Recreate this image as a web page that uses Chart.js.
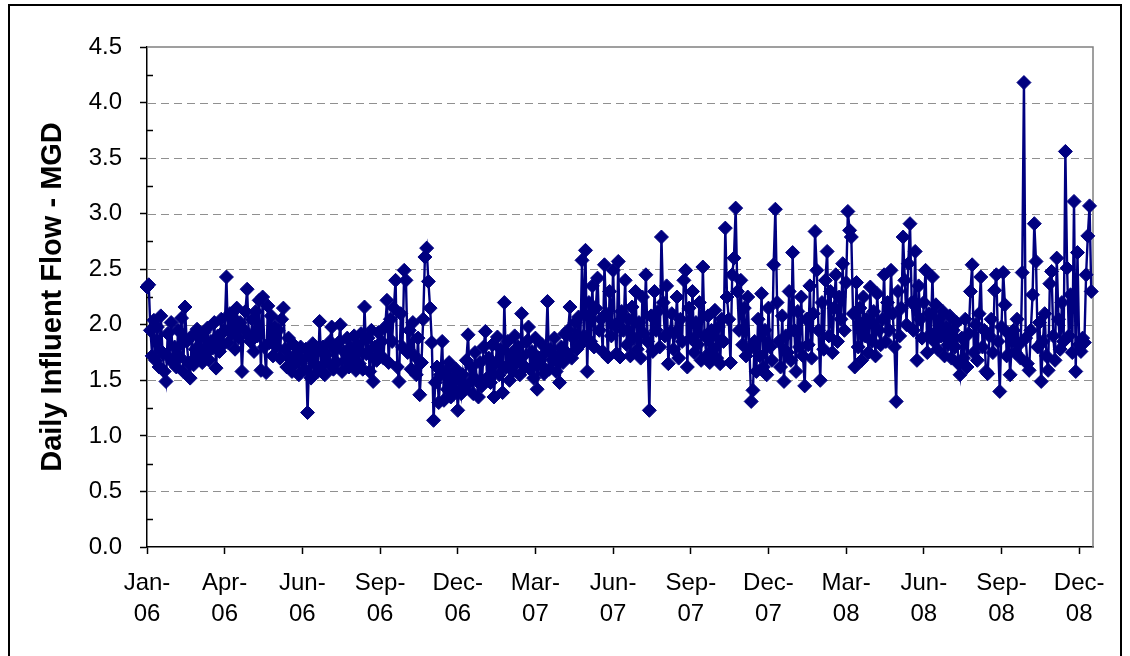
<!DOCTYPE html>
<html>
<head>
<meta charset="utf-8">
<script src="https://cdn.jsdelivr.net/npm/chart.js@4.4.1/dist/chart.umd.min.js"></script>
<style>
  body { margin: 0; background: #fff; }
  canvas { display: block; }
</style>
</head>
<body>
<canvas id="flowChart" width="1130" height="656"></canvas>
<script>
// Caudal diario de entrada (MGD), leido cada 2 dias desde el 1 de enero de 2006
const dayStep = 2;
const tickStepDays = 90;
const tickLabels = ['Jan-06', 'Apr-06', 'Jun-06', 'Sep-06', 'Dec-06', 'Mar-07', 'Jun-07',
                    'Sep-07', 'Dec-07', 'Mar-08', 'Jun-08', 'Sep-08', 'Dec-08'];
const yTickStep = 0.5;

const flowMgd = [
  // 2006
  2.34, 2.36, 1.95, 1.72, 2.04, 1.68, 1.98, 1.62, 2.08, 1.75, 1.58, 1.49, 1.92, 1.70, 2.02, 1.66,
  1.80, 1.62, 1.95, 1.71, 2.06, 1.58, 2.16, 1.85, 1.66, 1.52, 1.90, 1.64, 1.78, 1.96,
  1.70, 1.88, 1.66, 1.93, 1.74, 1.97, 1.68, 1.85, 1.79, 2.02, 1.61, 1.90, 1.76, 2.05, 1.82,
  1.95, 2.43, 1.84, 2.10, 1.92, 2.06, 1.78, 2.15, 1.88, 2.02, 1.58, 1.96, 2.12, 2.32, 1.90,
  1.85, 2.05, 1.76, 2.12, 1.90, 2.22, 1.59, 2.25, 1.80, 1.57, 2.17, 1.84, 2.08, 1.72, 1.98, 1.80,
  1.95, 1.70, 2.05, 2.15, 1.78, 1.62, 1.88, 1.70, 1.58, 1.82, 1.66, 1.75, 1.55, 1.80, 1.68,
  1.60, 1.78, 1.21, 1.72, 1.52, 1.83, 1.65, 1.75, 1.58, 2.03, 1.62, 1.80, 1.55, 1.73, 1.66,
  1.85, 1.98, 1.60, 1.78, 1.66, 1.84, 2.00, 1.58, 1.76, 1.68, 1.88, 1.62, 1.80, 1.70, 1.90, 1.59,
  1.82, 1.65, 1.92, 1.60, 2.16, 1.74, 1.88, 1.58, 1.95, 1.49, 1.80, 1.68, 1.93, 1.72, 1.85,
  1.70, 1.98, 2.22, 1.66, 2.05, 1.85, 2.15, 2.40, 1.62, 1.49, 2.10, 1.80, 2.49, 2.40, 1.75,
  1.95, 1.60, 2.02, 1.72, 1.55, 1.88, 1.37, 1.66, 2.05, 2.61, 2.69, 2.39, 2.15, 1.84, 1.14,
  1.48, 1.62, 1.30, 1.55, 1.85, 1.32, 1.58, 1.42, 1.66, 1.35, 1.52, 1.40, 1.60, 1.23, 1.50, 1.38,
  // 2007
  1.55, 1.42, 1.68, 1.91, 1.48, 1.62, 1.38, 1.75, 1.50, 1.35, 1.66, 1.45, 1.80, 1.94, 1.52,
  1.70, 1.48, 1.82, 1.35, 1.65, 1.89, 1.55, 1.78, 1.39, 2.20, 1.62, 1.85, 1.50, 1.74,
  1.58, 1.90, 1.66, 1.80, 1.55, 2.10, 1.72, 1.62, 1.85, 1.98, 1.60, 1.76, 1.52, 1.88, 1.42, 1.70,
  1.64, 1.82, 1.56, 1.75, 2.21, 1.60, 1.78, 1.68, 1.88, 1.58, 1.72, 1.48, 1.80, 1.66, 1.92,
  1.75, 1.95, 2.16, 1.70, 1.88, 2.02, 1.78, 2.07, 1.82, 2.58, 1.90, 2.67, 1.58, 2.20, 1.85,
  2.35, 1.80, 2.15, 2.42, 1.95, 2.05, 1.76, 2.54, 2.10, 1.71, 2.30, 1.90, 2.49, 2.00, 1.74,
  2.57, 1.71, 2.12, 1.95, 2.40, 1.82, 2.05, 1.72, 2.16, 1.88, 2.30, 1.78, 2.02, 1.70, 2.25, 1.92,
  2.45, 1.85, 1.23, 2.08, 1.76, 2.30, 1.95, 2.12, 1.80, 2.79, 2.20, 1.90, 2.35, 1.65, 1.93,
  2.10, 1.78, 1.93, 2.25, 1.70, 2.05, 1.85, 2.40, 2.49, 1.62, 2.15, 1.88, 2.30, 1.75, 2.02,
  1.82, 2.20, 1.68, 2.52, 1.90, 1.72, 2.08, 1.66, 1.95, 1.78, 2.13, 1.70, 1.98, 1.65, 2.05, 1.85,
  2.87, 2.25, 2.05, 1.66, 2.45, 2.60, 3.05, 2.30, 1.95, 2.40, 1.82, 2.15, 1.72, 2.25, 1.78,
  1.31, 1.41, 1.85, 1.58, 2.05, 1.72, 2.28, 1.62, 1.95, 1.55, 2.15, 1.80, 1.68, 2.54, 3.04,
  // 2008
  2.20, 1.85, 1.62, 2.08, 1.49, 1.90, 1.75, 2.30, 1.68, 2.65, 1.95, 1.58, 2.12, 1.80, 2.25, 1.72,
  1.45, 2.05, 1.82, 2.35, 1.70, 2.10, 2.84, 2.49, 1.95, 1.50, 2.20, 1.78, 2.40, 2.66,
  1.90, 2.30, 1.75, 2.15, 2.45, 1.85, 2.25, 2.05, 2.55, 1.95, 2.38, 3.02, 2.85, 2.79, 2.10, 1.62,
  2.38, 1.80, 2.15, 1.68, 2.25, 1.90, 2.05, 1.75, 2.34, 1.85, 2.12, 1.72, 2.28, 1.95, 1.82,
  2.05, 2.45, 1.85, 2.20, 1.95, 2.49, 2.10, 1.80, 1.31, 2.30, 1.90, 2.15, 2.79, 2.40, 2.00,
  2.55, 2.91, 2.20, 1.95, 2.66, 1.68, 2.35, 2.05, 1.88, 2.20, 2.49, 1.75, 2.10, 1.92, 2.43,
  1.85, 2.18, 1.78, 2.05, 1.90, 2.12, 1.72, 1.98, 1.82, 2.08, 1.70, 1.95, 1.80, 2.02, 1.65, 1.55,
  1.88, 1.70, 2.05, 1.62, 1.92, 2.30, 2.54, 1.75, 2.00, 1.68, 2.10, 2.43, 1.80, 1.95, 1.58,
  1.56, 1.90, 2.05, 1.75, 2.31, 2.45, 1.85, 1.40, 1.98, 2.47, 2.18, 1.72, 1.92, 1.55, 1.85,
  1.95, 1.75, 2.05, 1.82, 1.70, 2.47, 4.18, 1.88, 1.65, 1.59, 1.95, 2.27, 2.91, 2.57, 1.80, 2.02,
  1.49, 1.85, 2.10, 1.72, 1.59, 2.37, 2.48, 1.90, 1.68, 2.60, 2.05, 1.78, 2.20, 1.85, 3.56,
  2.51, 1.90, 2.27, 1.75, 3.11, 1.58, 2.65, 1.82, 1.76, 1.88, 1.84, 2.45, 2.80, 3.07, 2.30
];

const NAVY = '#000080';
const FONT = "'Liberation Sans', Arial, sans-serif";

// Lineas de la cuadricula, borde del area de trazado, marcas menores y marco exterior
const decor = {
  id: 'decor',
  beforeDatasetsDraw(chart) {
    const { ctx, chartArea: a, scales: { y } } = chart;
    ctx.save();
    ctx.strokeStyle = '#909090';
    ctx.lineWidth = 1;
    ctx.setLineDash([8, 5]);
    for (let v = yTickStep; v < y.max - 0.01; v += yTickStep) {
      const py = Math.round(y.getPixelForValue(v)) + 0.5;
      ctx.beginPath();
      ctx.moveTo(a.left + 1, py);
      ctx.lineTo(a.right, py);
      ctx.stroke();
    }
    ctx.setLineDash([]);
    ctx.strokeStyle = '#808080';
    ctx.lineWidth = 1.5;
    ctx.beginPath();
    ctx.moveTo(a.left, a.top);
    ctx.lineTo(a.right, a.top);
    ctx.lineTo(a.right, a.bottom);
    ctx.stroke();
    // marcas menores hacia dentro
    ctx.strokeStyle = '#000';
    ctx.lineWidth = 1.5;
    for (let v = yTickStep / 2; v < y.max; v += yTickStep) {
      const py = Math.round(y.getPixelForValue(v)) + 0.5;
      ctx.beginPath();
      ctx.moveTo(a.left, py);
      ctx.lineTo(a.left + 6, py);
      ctx.stroke();
    }
    ctx.restore();
  },
  afterDraw(chart) {
    const ctx = chart.ctx;
    ctx.save();
    ctx.strokeStyle = '#000';
    ctx.lineWidth = 2;
    ctx.strokeRect(9, 5, 1112, 700);
    ctx.restore();
  }
};

new Chart(document.getElementById('flowChart'), {
  type: 'line',
  data: {
    datasets: [{
      data: flowMgd.map((v, i) => ({ x: i * dayStep, y: v })),
      borderColor: NAVY,
      borderWidth: 2.4,
      backgroundColor: NAVY,
      pointStyle: 'rectRot',
      pointRadius: 7,
      pointBackgroundColor: NAVY,
      pointBorderColor: NAVY,
      pointBorderWidth: 1,
      tension: 0,
      fill: false,
      clip: false
    }]
  },
  options: {
    responsive: false,
    animation: false,
    layout: { padding: { left: 0, top: 47, right: 37, bottom: 0 } },
    plugins: {
      legend: { display: false },
      tooltip: { enabled: false }
    },
    scales: {
      x: {
        type: 'linear',
        min: 0,
        max: 1096,
        afterBuildTicks: s => { s.ticks = tickLabels.map((_, k) => ({ value: k * tickStepDays })); },
        afterFit: s => { s.height = 109; },
        grid: { drawOnChartArea: false, drawTicks: true, tickLength: 7, tickColor: '#000', tickWidth: 1.5 },
        border: { display: true, color: '#000', width: 1.5 },
        ticks: {
          autoSkip: false,
          maxRotation: 0,
          padding: 14,
          color: '#000',
          font: { family: FONT, size: 24, lineHeight: 1.3 },
          callback: v => {
            const s = tickLabels[Math.round(v / tickStepDays)];
            return [s.slice(0, 4), s.slice(4)];
          }
        }
      },
      y: {
        min: 0,
        max: 4.5,
        afterFit: s => { s.width = 147; },
        grid: { drawOnChartArea: false, drawTicks: true, tickLength: 7, tickColor: '#000', tickWidth: 1.5 },
        border: { display: true, color: '#000', width: 1.5 },
        ticks: {
          stepSize: yTickStep,
          padding: 18,
          color: '#000',
          font: { family: FONT, size: 24 },
          callback: v => v.toFixed(1)
        },
        title: {
          display: true,
          text: 'Daily Influent Flow - MGD',
          color: '#000',
          padding: { top: 36, bottom: 0 },
          font: { family: FONT, size: 29, weight: 'bold', lineHeight: 1.2 }
        }
      }
    }
  },
  plugins: [decor]
});
</script>
</body>
</html>
